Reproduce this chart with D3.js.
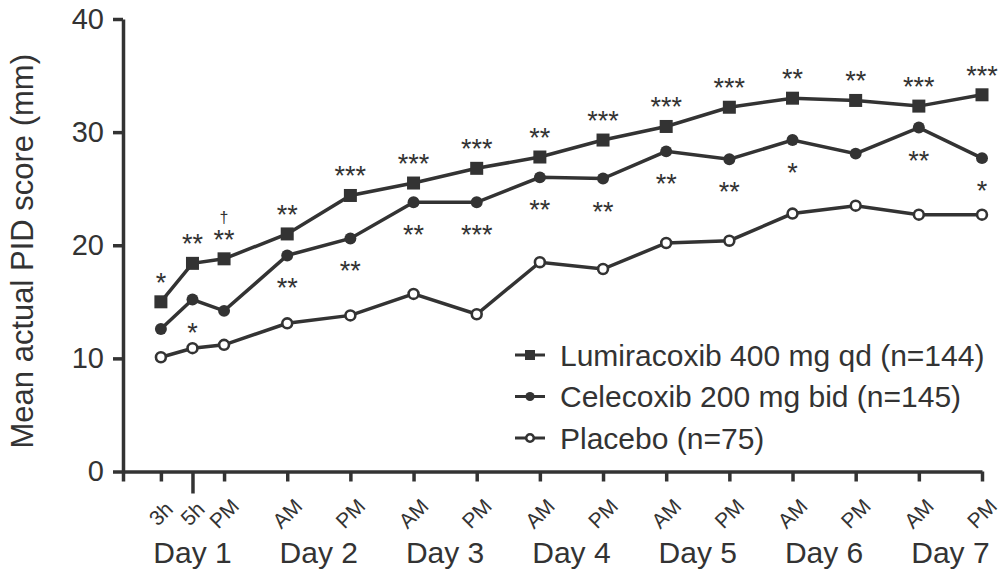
<!DOCTYPE html>
<html>
<head>
<meta charset="utf-8">
<script src="https://cdn.jsdelivr.net/npm/d3@7"></script>
<style>
    body { margin: 0; background: #fff; }
    #chart { width: 1004px; height: 574px; }
    text { font-family: "Liberation Sans", Arial, sans-serif; fill: #333; }
</style>
</head>
<body>
<div id="chart"></div>
<script>

// x positions in "slots": PM of day 1 = 0, one slot per half day
let timeLabels = ["3h", "5h", "PM", "AM", "PM", "AM", "PM", "AM", "PM", "AM", "PM", "AM", "PM", "AM", "PM"];
let timeSlots  = [-1, -0.5, 0, 1, 2, 3, 4, 5, 6, 7, 8, 9, 10, 11, 12];

let dayLabels = ["Day 1", "Day 2", "Day 3", "Day 4", "Day 5", "Day 6", "Day 7"];
let daySlots  = [-0.5, 1.5, 3.5, 5.5, 7.5, 9.5, 11.5];

let yTicks = [0, 10, 20, 30, 40];

// mean actual PID score (mm)
let lumiracoxib = [15.0, 18.4, 18.8, 21.0, 24.4, 25.5, 26.8, 27.8, 29.3, 30.5, 32.2, 33.0, 32.8, 32.3, 33.3];
let celecoxib   = [12.6, 15.2, 14.2, 19.1, 20.6, 23.8, 23.8, 26.0, 25.9, 28.3, 27.6, 29.3, 28.1, 30.4, 27.7];
let placebo     = [10.1, 10.9, 11.2, 13.1, 13.8, 15.7, 13.9, 18.5, 17.9, 20.2, 20.4, 22.8, 23.5, 22.7, 22.7];

// significance marks
let lumiStars = ["*", "**", "**", "**", "***", "***", "***", "**", "***", "***", "***", "**", "**", "***", "***"];
let celeStars = ["", "*", "", "**", "**", "**", "***", "**", "**", "**", "**", "*", "", "**", "*"];
let lumiDagger = ["", "", "†", "", "", "", "", "", "", "", "", "", "", "", ""];

let seriesNames = ["Lumiracoxib 400 mg qd (n=144)", "Celecoxib 200 mg bid (n=145)", "Placebo (n=75)"];
let seriesShapes = ["square", "dot", "open"];

class PidChart {

    constructor(parentElement) {
        this.parentElement = parentElement;
        this.initVis();
    }

    initVis() {
        let vis = this;

        vis.margin = {top: 19, right: 22, bottom: 102.5, left: 123};
        vis.width = 1004 - vis.margin.left - vis.margin.right;
        vis.height = 574 - vis.margin.top - vis.margin.bottom;
        vis.ink = "#333";

        vis.svg = d3.select("#" + vis.parentElement).append("svg")
            .attr("width", 1004)
            .attr("height", 574)
            .append("g")
            .attr("transform", "translate(" + vis.margin.left + "," + vis.margin.top + ")");

        // scales
        vis.x = d3.scaleLinear().domain([-1.6, 12]).range([0, vis.width]);
        vis.y = d3.scaleLinear().domain([0, 40]).range([vis.height, 0]);

        vis.series = [lumiracoxib, celecoxib, placebo].map((vals, i) => ({
            name: seriesNames[i],
            shape: seriesShapes[i],
            values: vals.map((v, j) => ({slot: timeSlots[j], value: v}))
        }));

        vis.updateVis();
    }

    drawMarker(sel, shape, size) {
        let vis = this;
        if (shape === "square") {
            sel.append("rect")
                .attr("x", -size / 2).attr("y", -size / 2)
                .attr("width", size).attr("height", size)
                .attr("fill", vis.ink);
        } else if (shape === "dot") {
            sel.append("circle").attr("r", size * 0.46).attr("fill", vis.ink);
        } else {
            sel.append("circle").attr("r", size * 0.38)
                .attr("fill", "#fff").attr("stroke", vis.ink).attr("stroke-width", 2.6);
        }
    }

    updateVis() {
        let vis = this;

        // y axis
        let yAxis = vis.svg.append("g")
            .call(d3.axisLeft(vis.y).tickValues(yTicks).tickSize(10).tickSizeOuter(0).tickPadding(9));

        // x axis: ticks at every time point plus the origin
        let xAxis = vis.svg.append("g")
            .attr("transform", "translate(0," + vis.height + ")")
            .call(d3.axisBottom(vis.x).tickValues([vis.x.domain()[0]].concat(timeSlots))
                .tickSize(10).tickSizeOuter(0).tickFormat(""));

        // the 5h tick is drawn longer
        xAxis.selectAll(".tick line")
            .filter(d => d === -0.5)
            .attr("y2", 22);

        [xAxis, yAxis].forEach(ax => {
            ax.select(".domain").attr("stroke", vis.ink).attr("stroke-width", 3.5);
            ax.selectAll(".tick line").attr("stroke", vis.ink).attr("stroke-width", 3.5);
        });

        yAxis.selectAll("text")
            .attr("fill", vis.ink)
            .style("font-size", "29px")
            .style("font-family", "'Liberation Sans', Arial, sans-serif");

        // rotated time labels
        vis.svg.append("g").selectAll("text")
            .data(timeLabels)
            .enter().append("text")
            .attr("transform", (d, i) => "translate(" + vis.x(timeSlots[i]) + "," + (vis.height + 42) + ") rotate(-45)")
            .attr("text-anchor", "middle")
            .attr("dy", "0.35em")
            .style("font-size", "21px")
            .text(d => d);

        // day labels
        vis.svg.append("g").selectAll("text")
            .data(dayLabels)
            .enter().append("text")
            .attr("x", (d, i) => vis.x(daySlots[i]))
            .attr("y", vis.height + 91)
            .attr("text-anchor", "middle")
            .style("font-size", "30px")
            .text(d => d);

        // y axis title
        vis.svg.append("text")
            .attr("transform", "translate(" + (33 - vis.margin.left) + "," + (vis.height / 2 + 6) + ") rotate(-90)")
            .attr("text-anchor", "middle")
            .style("font-size", "31px")
            .text("Mean actual PID score (mm)");

        // lines
        let line = d3.line()
            .x(d => vis.x(d.slot))
            .y(d => vis.y(d.value));

        vis.svg.append("g").selectAll("path")
            .data(vis.series)
            .enter().append("path")
            .attr("d", d => line(d.values))
            .attr("fill", "none")
            .attr("stroke", vis.ink)
            .attr("stroke-width", 3.5);

        // markers
        vis.series.forEach(s => {
            vis.svg.append("g").selectAll("g")
                .data(s.values)
                .enter().append("g")
                .attr("transform", d => "translate(" + vis.x(d.slot) + "," + vis.y(d.value) + ")")
                .each(function() { vis.drawMarker(d3.select(this), s.shape, 13); });
        });

        // significance marks above lumiracoxib
        vis.svg.append("g").selectAll("text")
            .data(lumiStars)
            .enter().append("text")
            .attr("x", (d, i) => vis.x(timeSlots[i]))
            .attr("y", (d, i) => vis.y(lumiracoxib[i]) - 10)
            .attr("text-anchor", "middle")
            .style("font-size", "27px")
            .text(d => d);

        vis.svg.append("g").selectAll("text")
            .data(lumiDagger)
            .enter().append("text")
            .attr("x", (d, i) => vis.x(timeSlots[i]))
            .attr("y", (d, i) => vis.y(lumiracoxib[i]) - 36)
            .attr("text-anchor", "middle")
            .attr("fill", vis.ink)
            .style("font-size", "16px")
            .text(d => d);

        // significance marks below celecoxib
        vis.svg.append("g").selectAll("text")
            .data(celeStars)
            .enter().append("text")
            .attr("x", (d, i) => vis.x(timeSlots[i]))
            .attr("y", (d, i) => vis.y(celecoxib[i]) + 42)
            .attr("text-anchor", "middle")
            .style("font-size", "27px")
            .text(d => d);

        // legend
        let legend = vis.svg.append("g")
            .attr("transform", "translate(" + (530 - vis.margin.left) + "," + (355 - vis.margin.top) + ")");

        let rows = legend.selectAll("g")
            .data(vis.series)
            .enter().append("g")
            .attr("transform", (d, i) => "translate(0," + (i * 41.5) + ")");

        rows.append("line")
            .attr("x1", -15).attr("x2", 15)
            .attr("stroke", vis.ink).attr("stroke-width", 3);

        rows.each(function(d) { vis.drawMarker(d3.select(this), d.shape, 10); });

        rows.append("text")
            .attr("x", 30)
            .attr("dy", "0.36em")
            .style("font-size", "30px")
            .text(d => d.name);
    }
}

new PidChart("chart");
</script>
</body>
</html>
